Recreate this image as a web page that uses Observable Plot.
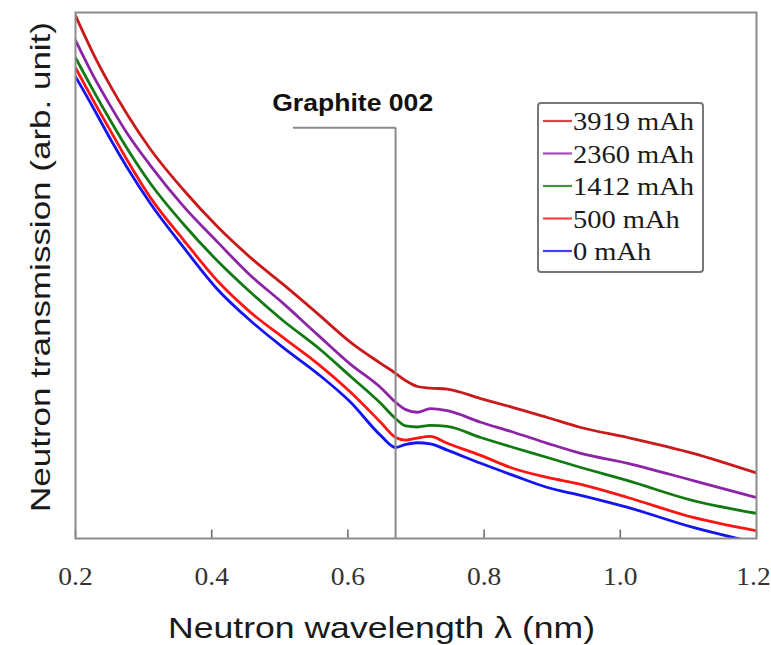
<!DOCTYPE html>
<html><head><meta charset="utf-8">
<script src="https://cdn.jsdelivr.net/npm/d3@7"></script>
<script src="https://cdn.jsdelivr.net/npm/@observablehq/plot@0.6"></script>
<style>
html,body{margin:0;padding:0;background:#fff;}
#chart{position:relative;width:771px;height:645px;}
</style></head><body><div id="chart"></div>
<script>
// ---- data ----
const seriesNames = ["3919 mAh", "2360 mAh", "1412 mAh", "500 mAh", "0 mAh"];
const seriesColors = ["#c81a1a", "#8c24a6", "#137a13", "#ff1414", "#1414f0"];
const wavelengths = [0.200, 0.226, 0.251, 0.276, 0.310, 0.359, 0.409, 0.457, 0.505, 0.555, 0.604, 0.648,
                     0.670, 0.685, 0.702, 0.721, 0.746, 0.795, 0.843, 0.893, 0.942, 1.011, 1.107, 1.199];
const t3919 = [0.994, 0.922, 0.861, 0.806, 0.740, 0.662, 0.592, 0.534, 0.483, 0.428, 0.373, 0.333,
               0.314, 0.300, 0.289, 0.286, 0.284, 0.266, 0.249, 0.230, 0.211, 0.192, 0.162, 0.125];
const t2360 = [0.947, 0.880, 0.823, 0.770, 0.709, 0.631, 0.563, 0.500, 0.447, 0.388, 0.331, 0.287,
               0.259, 0.245, 0.240, 0.247, 0.243, 0.221, 0.202, 0.181, 0.162, 0.143, 0.110, 0.078];
const t1412 = [0.914, 0.852, 0.795, 0.741, 0.675, 0.597, 0.527, 0.468, 0.414, 0.364, 0.308, 0.257,
               0.228, 0.214, 0.212, 0.215, 0.213, 0.192, 0.173, 0.154, 0.135, 0.110, 0.072, 0.048];
const t500  = [0.895, 0.833, 0.776, 0.719, 0.648, 0.567, 0.489, 0.430, 0.382, 0.333, 0.278, 0.221,
               0.192, 0.187, 0.191, 0.194, 0.181, 0.158, 0.133, 0.116, 0.103, 0.078, 0.040, 0.015];
const t0    = [0.878, 0.819, 0.760, 0.705, 0.637, 0.553, 0.473, 0.414, 0.363, 0.314, 0.259, 0.196,
               0.173, 0.179, 0.182, 0.180, 0.168, 0.143, 0.120, 0.097, 0.082, 0.059, 0.021, -0.008];
const seriesValues = [t3919, t2360, t1412, t500, t0];
const xTicks = [0.2, 0.4, 0.6, 0.8, 1.0, 1.2];
const xTitle = "Neutron wavelength \u03bb (nm)";
const yTitle = "Neutron transmission (arb. unit)";
const graphiteLabel = "Graphite 002";
const graphiteEdge = [0.670];
const bracketStart = [0.520];
const bracketLevel = [0.781];
const labelPos = [{x: 0.607, y: 0.826, text: graphiteLabel}];

// ---- build ----
const lineMarks = [];
for (let i = seriesNames.length - 1; i >= 0; i--) {
  const rows = wavelengths.map((w, j) => ({lambda: w, T: seriesValues[i][j], series: seriesNames[i]}));
  lineMarks.push(Plot.line(rows, {x: "lambda", y: "T", stroke: seriesColors[i], strokeWidth: 2.8,
    curve: "monotone-x", clip: true}));
}

const svg = Plot.plot({
  width: 771, height: 645,
  marginLeft: 75, marginRight: 15, marginTop: 12, marginBottom: 107,
  style: {background: "#fff", color: "#222"},
  x: {domain: [0.2, 1.2]},
  y: {domain: [0, 1], axis: null},
  marks: [
    ...lineMarks,
    Plot.ruleX(graphiteEdge, {y1: 0, y2: bracketLevel[0], stroke: "#8a8a8a", strokeWidth: 2}),
    Plot.ruleY(bracketLevel, {x1: bracketStart[0], x2: graphiteEdge[0], stroke: "#8a8a8a", strokeWidth: 2}),
    Plot.text(labelPos, {x: "x", y: "y", text: "text", fontWeight: "bold", fontSize: 23,
      fontFamily: "Liberation Sans, Arial, sans-serif", fill: "#111", className: "graphite-label"}),
    Plot.ruleX(xTicks, {y1: 0, y2: 0.016, stroke: "#666", strokeWidth: 1.5}),
    Plot.axisX(xTicks, {tickSize: 0, tickPadding: 29, tickFormat: d => d.toFixed(1),
      fontSize: 25, fontFamily: "Liberation Serif, Times New Roman, serif", fill: "#333", label: null,
      className: "xticklabels"}),
    Plot.frame({stroke: "#8c8c8c", strokeWidth: 2})
  ]
});

const s = d3.select(svg);
s.selectAll(".graphite-label text").attr("textLength", 161).attr("lengthAdjust", "spacingAndGlyphs");
const tickTexts = s.selectAll(".xticklabels text").nodes();
tickTexts.forEach((node, i) => {
  const t = d3.select(node);
  const tr = t.attr("transform") || "";
  const shift = i === tickTexts.length - 1 ? " translate(-3,0)" : "";
  t.attr("transform", tr + shift + " scale(1.1,1)");
});

// x title
s.append("text").attr("x", 381.5).attr("y", 638).attr("text-anchor", "middle")
  .attr("font-family", "Liberation Sans, Arial, sans-serif").attr("font-size", 30)
  .attr("fill", "#1a1a1a").attr("textLength", 427).attr("lengthAdjust", "spacingAndGlyphs")
  .text(xTitle);
// y title
s.append("text").attr("transform", "translate(50,267) rotate(-90)").attr("text-anchor", "middle")
  .attr("font-family", "Liberation Sans, Arial, sans-serif").attr("font-size", 28)
  .attr("fill", "#1a1a1a").attr("textLength", 490).attr("lengthAdjust", "spacingAndGlyphs")
  .text(yTitle);

// legend
const lg = s.append("g");
lg.append("rect").attr("x", 538).attr("y", 103).attr("width", 165).attr("height", 169)
  .attr("rx", 3).attr("fill", "#fff").attr("stroke", "#777").attr("stroke-width", 2);
seriesNames.forEach((name, i) => {
  const cy = 121 + i * 32.5;
  lg.append("line").attr("x1", 543).attr("x2", 572).attr("y1", cy).attr("y2", cy)
    .attr("stroke", seriesColors[i]).attr("stroke-width", 2.2).attr("opacity", 0.8);
  lg.append("text").attr("transform", `translate(573,${cy + 9}) scale(1.14,1)`)
    .attr("text-anchor", "start")
    .attr("font-family", "Liberation Serif, Times New Roman, serif").attr("font-size", 25)
    .attr("fill", "#1a1a1a").text(name);
});

document.getElementById("chart").appendChild(svg);
</script>
</body></html>
